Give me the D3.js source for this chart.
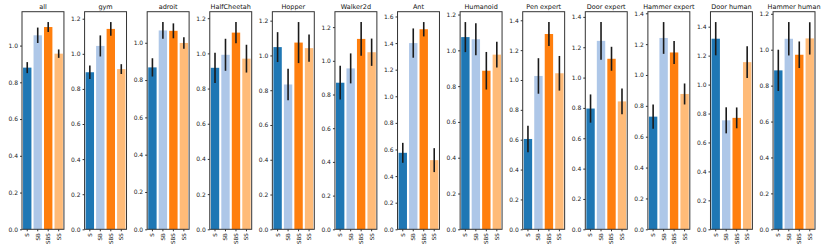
<!DOCTYPE html>
<html>
<head>
<meta charset="utf-8">
<script src="https://cdn.jsdelivr.net/npm/d3@7"></script>
<style>
  body { margin: 0; background: #fff; }
  svg { font-family: "DejaVu Sans", sans-serif; }
</style>
</head>
<body>
<svg id="chart" width="830" height="246"></svg>
<script>
var tasks = ['all', 'gym', 'adroit', 'HalfCheetah', 'Hopper', 'Walker2d', 'Ant', 'Humanoid',
  'Pen expert', 'Door expert', 'Hammer expert', 'Door human', 'Hammer human']
var methods = ['S', 'SB', 'SBS', 'SS']
var colors = ['#1f77b4', '#aec7e8', '#ff7f0e', '#ffbb78']

var meanS = [0.88, 0.895, 0.868, 0.918, 1.048, 0.87, 0.575, 1.074, 0.605, 0.796, 0.73, 1.317, 0.885]
var errS = [0.03, 0.038, 0.049, 0.086, 0.086, 0.10, 0.075, 0.084, 0.089, 0.093, 0.078, 0.115, 0.115]
var meanSB = [1.056, 1.045, 1.066, 0.992, 0.833, 0.955, 1.40, 1.062, 1.027, 1.242, 1.24, 0.753, 1.061]
var errSB = [0.042, 0.06, 0.045, 0.091, 0.091, 0.089, 0.11, 0.09, 0.119, 0.124, 0.103, 0.09, 0.093]
var meanSBS = [1.101, 1.142, 1.064, 1.118, 1.074, 1.13, 1.504, 0.886, 1.308, 1.124, 1.146, 0.77, 0.972]
var errSBS = [0.027, 0.039, 0.04, 0.06, 0.118, 0.10, 0.054, 0.105, 0.08, 0.079, 0.075, 0.072, 0.074]
var meanSS = [0.956, 0.913, 0.999, 0.97, 1.042, 1.051, 0.52, 0.976, 1.045, 0.843, 0.877, 1.155, 1.063]
var errSS = [0.023, 0.028, 0.031, 0.079, 0.078, 0.081, 0.09, 0.072, 0.116, 0.085, 0.068, 0.11, 0.09]

var means = [meanS, meanSB, meanSBS, meanSS]
var errs = [errS, errSB, errSBS, errSS]

var plotTop = 11.7
var plotBottom = 229.3

var svg = d3.select('#chart')

// one panel per task
var panel = d3.scaleBand()
  .domain(tasks)
  .range([22, 815])
  .paddingInner(0.33)
  .paddingOuter(0)

tasks.forEach(function(task, t) {
  var rows = methods.map(function(m, i) {
    return { method: m, mean: means[i][t], err: errs[i][t], color: colors[i] }
  })

  var w = panel.bandwidth()
  var g = svg.append('g')
    .attr('transform', 'translate(' + panel(task) + ',0)')

  var x = d3.scaleBand()
    .domain(methods)
    .range([0, w])
    .paddingInner(0.2)
    .paddingOuter(0.1)

  var ymax = d3.max(rows, function(d) { return d.mean + d.err }) * 1.05
  var y = d3.scaleLinear()
    .domain([0, ymax])
    .range([plotBottom, plotTop])

  var ticks = d3.range(0, Math.floor(ymax / 0.2 + 1e-9) + 1).map(function(i) { return i * 0.2 })

  g.selectAll('rect.bar')
    .data(rows)
    .enter()
    .append('rect')
    .attr('class', 'bar')
    .attr('x', function(d) { return x(d.method) })
    .attr('width', x.bandwidth())
    .attr('y', function(d) { return y(d.mean) })
    .attr('height', function(d) { return y(0) - y(d.mean) })
    .attr('fill', function(d) { return d.color })

  g.selectAll('line.err')
    .data(rows)
    .enter()
    .append('line')
    .attr('class', 'err')
    .attr('x1', function(d) { return x(d.method) + x.bandwidth() / 2 })
    .attr('x2', function(d) { return x(d.method) + x.bandwidth() / 2 })
    .attr('y1', function(d) { return y(d.mean - d.err) })
    .attr('y2', function(d) { return y(d.mean + d.err) })
    .attr('stroke', '#1a1a1a')
    .attr('stroke-width', 1.6)

  var yAxis = g.append('g')
    .call(d3.axisLeft(y).tickValues(ticks).tickFormat(d3.format('.1f')).tickSize(2).tickPadding(2))
  yAxis.select('.domain').remove()
  yAxis.selectAll('text').attr('font-size', 6).attr('fill', '#222').attr('font-family', 'DejaVu Sans')
  yAxis.selectAll('line').attr('stroke', '#333')

  var xAxis = g.append('g')
    .attr('transform', 'translate(0,' + plotBottom + ')')
    .call(d3.axisBottom(x).tickSize(2))
  xAxis.select('.domain').remove()
  xAxis.selectAll('line').attr('stroke', '#333')
  xAxis.selectAll('text')
    .attr('transform', 'rotate(-90)')
    .attr('x', -4)
    .attr('y', 0)
    .attr('dy', '0.35em')
    .attr('text-anchor', 'end')
    .attr('font-size', 5.5)
    .attr('fill', '#222')
    .attr('font-family', 'DejaVu Sans')

  g.append('rect')
    .attr('x', 0)
    .attr('y', plotTop)
    .attr('width', w)
    .attr('height', plotBottom - plotTop)
    .attr('fill', 'none')
    .attr('stroke', '#333')
    .attr('stroke-width', 1)

  g.append('text')
    .attr('x', w / 2)
    .attr('y', 8.5)
    .attr('text-anchor', 'middle')
    .attr('font-size', 6.5)
    .attr('fill', '#111')
    .text(task)
})
</script>
</body>
</html>
